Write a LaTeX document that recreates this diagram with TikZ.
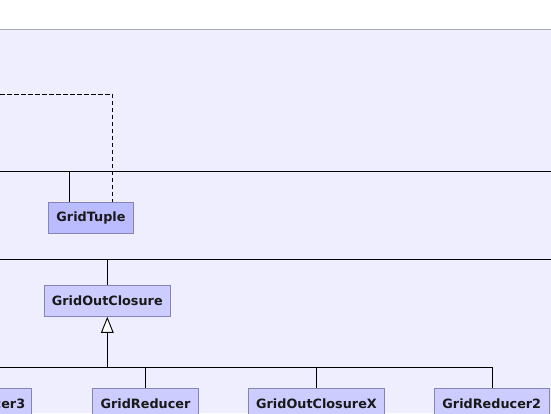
\documentclass[tikz,border=0pt]{standalone}
\usepackage{fontspec}
\setmainfont{DejaVu Sans}
\usetikzlibrary{arrows.meta}
\definecolor{bgl}{HTML}{EEEEFF}
\definecolor{topline}{HTML}{A8A8C0}
\definecolor{boxdark}{HTML}{BBBBFF}
\definecolor{boxlite}{HTML}{CCCCFF}
\definecolor{boxedge}{HTML}{8484B8}
\tikzset{
  cls/.style={draw=boxedge, line width=0.9pt, fill=boxlite, inner sep=0pt,
    font=\bfseries\fontsize{12.8}{14}\selectfont, text=black!90},
  clsdark/.style={cls, fill=boxdark},
  edge/.style={draw=black, line width=0.9pt},
}
\begin{document}
\begin{tikzpicture}[x=1pt,y=-1pt]
\useasboundingbox (0,0) rectangle (551,413);
\fill[white] (0,0) rectangle (551,413);
\fill[bgl] (0,29.5) rectangle (551,413);
\draw[topline, line width=1pt] (0,29.5) -- (551,29.5);
\begin{scope}
\clip (0,0) rectangle (551,413);
% nodes
\node[clsdark, minimum width=85.4pt, minimum height=31pt] (tuple) at (91,217.8) {GridTuple};
\node[cls, minimum width=126pt, minimum height=31pt] (goc) at (107.3,300.8) {GridOutClosure};
\node[cls, minimum width=106.4pt, minimum height=31pt] (red) at (145.5,404) {GridReducer};
\node[cls, minimum width=136.3pt, minimum height=31pt] (gocx) at (316.5,404) {GridOutClosureX};
\node[cls, minimum width=114.5pt, minimum height=31pt] (red2) at (491.8,404) {GridReducer2};
\node[cls, minimum width=112pt, minimum height=31pt, anchor=east] (red3) at (32.3,404) {GridReducer3};
% coordinates
\coordinate (d0) at (0,94.3);
\coordinate (d1) at (112.4,94.3);
\coordinate (h1l) at (0,171.3);
\coordinate (h1r) at (551,171.3);
\coordinate (h2l) at (0,259.3);
\coordinate (h2r) at (551,259.3);
\coordinate (h3l) at (0,367.3);
\coordinate (h3r) at (492.6,367.3);
\coordinate (stem) at (107.3,367.3);
% connectors
\draw[edge, dashed, dash pattern=on 4.5pt off 2.5pt] (d0) -- (d1) -- (d1 |- tuple.north);
\draw[edge] (h1l) -- (h1r);
\draw[edge] (69.3,171.3) -- (69.3,0 |- tuple.north);
\draw[edge] (h2l) -- (h2r);
\draw[edge] (goc.north |- h2l) -- (goc.north);
\draw[edge] (h3l) -- (h3r) -- (red2.north -| h3r);
\draw[edge] (red.north |- h3l) -- (red.north);
\draw[edge] (gocx.north |- h3l) -- (gocx.north);
\draw[edge, -{Triangle[open, length=16pt, width=12.6pt, fill=white]}] (stem) -- (goc.south);
\end{scope}
\end{tikzpicture}
\end{document}
